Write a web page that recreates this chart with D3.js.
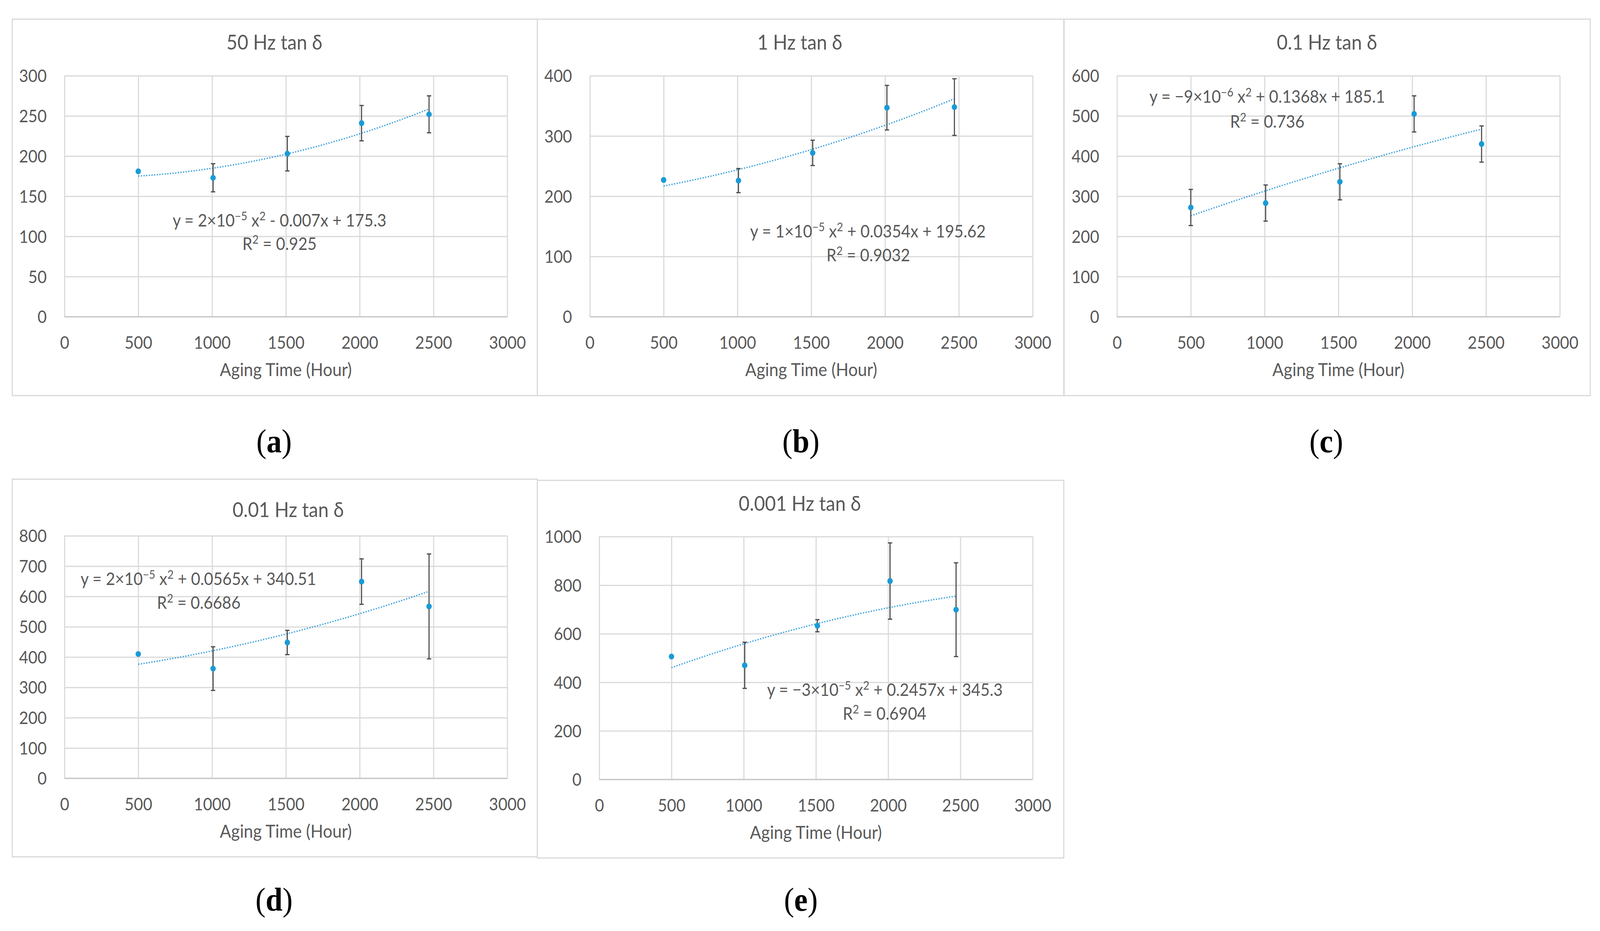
<!DOCTYPE html>
<html>
<head>
<meta charset="utf-8">
<script src="https://cdn.jsdelivr.net/npm/d3@7"></script>
<style>
  html, body { margin: 0; padding: 0; background: #ffffff; overflow: hidden; width: 100%; height: 100%; }
  svg { display: block; width: 100vw; height: 100vh; }
</style>
</head>
<body>
<svg id="chart" viewBox="0 0 4419 2384" preserveAspectRatio="none"></svg>
<script>
// ---------------- DATA ----------------
const agingHours = [500, 1007, 1510, 2013, 2470];
const xTicks = [0, 500, 1000, 1500, 2000, 2500, 3000];

const titles = ["50 Hz tan δ", "1 Hz tan δ", "0.1 Hz tan δ", "0.01 Hz tan δ", "0.001 Hz tan δ"];
const panelLetters = ["a", "b", "c", "d", "e"];

const yTicks50Hz = [0, 50, 100, 150, 200, 250, 300];
const yTicks1Hz = [0, 100, 200, 300, 400];
const yTicks01Hz = [0, 100, 200, 300, 400, 500, 600];
const yTicks001Hz = [0, 100, 200, 300, 400, 500, 600, 700, 800];
const yTicks0001Hz = [0, 200, 400, 600, 800, 1000];

const tan50Hz = [181, 173, 203, 241, 252];
const err50Hz = [0, 17.5, 21.5, 22, 23];
const tan1Hz = [227, 226, 272, 347, 348];
const err1Hz = [0, 20, 21, 37, 47];
const tan01Hz = [272, 283, 336, 505, 430];
const err01Hz = [45, 45, 45, 45, 45];
const tan001Hz = [410, 362, 448, 649, 567];
const err001Hz = [0, 72, 40, 75, 173];
const tan0001Hz = [506, 470, 633, 817, 699];
const err0001Hz = [0, 95, 25, 157, 193];

const equations = [
  "y = 2×10^{−5} x^{2} - 0.007x + 175.3",
  "y = 1×10^{−5} x^{2} + 0.0354x + 195.62",
  "y = −9×10^{−6} x^{2} + 0.1368x + 185.1",
  "y = 2×10^{−5} x^{2} + 0.0565x + 340.51",
  "y = −3×10^{−5} x^{2} + 0.2457x + 345.3"
];
const rSquared = ["R^{2} = 0.925", "R^{2} = 0.9032", "R^{2} = 0.736", "R^{2} = 0.6686", "R^{2} = 0.6904"];

// ---------------- LAYOUT ----------------
const layout = [
  { box: [34, 49, 1484, 1013], plot: [178, 194, 1401, 811], title: [758, 127], eq: [772, 580], r2: [772, 640], lab: [757, 1158] },
  { box: [1484, 49, 2938, 1013], plot: [1629, 194, 2852, 811], title: [2209, 127], eq: [2397, 608], r2: [2398, 669], lab: [2212, 1158] },
  { box: [2939, 49, 4392, 1013], plot: [3085, 194, 4308, 811], title: [3665, 127], eq: [3500, 263], r2: [3500, 327], lab: [3663, 1158] },
  { box: [34, 1227, 1484, 2194], plot: [178, 1372, 1401, 1993], title: [796, 1324], eq: [548, 1498], r2: [549, 1559], lab: [757, 2332] },
  { box: [1484, 1230, 2938, 2197], plot: [1655, 1374, 2852, 1996], title: [2209, 1308], eq: [2444, 1782], r2: [2443, 1843], lab: [2212, 2332] }
];

const panels = [
  { v: tan50Hz, e: err50Hz, yt: yTicks50Hz },
  { v: tan1Hz, e: err1Hz, yt: yTicks1Hz },
  { v: tan01Hz, e: err01Hz, yt: yTicks01Hz },
  { v: tan001Hz, e: err001Hz, yt: yTicks001Hz },
  { v: tan0001Hz, e: err0001Hz, yt: yTicks0001Hz }
];

const FONT = "Lato, 'Open Sans', 'DejaVu Sans', sans-serif";
const TEXT = "#595959";
const GRID = "#d9d9d9";
const BLUE = "#1b9ad6";
const TREND = "#3aa0dd";

// quadratic least squares (as the spreadsheet trendline does)
function polyfit2(xs, ys) {
  const n = xs.length;
  let S = [0, 0, 0, 0, 0], T = [0, 0, 0];
  for (let i = 0; i < n; i++) {
    const x = xs[i] / 1000, y = ys[i];
    for (let k = 0; k < 5; k++) S[k] += Math.pow(x, k);
    for (let k = 0; k < 3; k++) T[k] += Math.pow(x, k) * y;
  }
  const A = [[S[0], S[1], S[2], T[0]], [S[1], S[2], S[3], T[1]], [S[2], S[3], S[4], T[2]]];
  for (let c = 0; c < 3; c++) {
    let p = c;
    for (let r = c + 1; r < 3; r++) if (Math.abs(A[r][c]) > Math.abs(A[p][c])) p = r;
    [A[c], A[p]] = [A[p], A[c]];
    for (let r = 0; r < 3; r++) {
      if (r === c) continue;
      const f = A[r][c] / A[c][c];
      for (let k = c; k < 4; k++) A[r][k] -= f * A[c][k];
    }
  }
  const a0 = A[0][3] / A[0][0], a1 = A[1][3] / A[1][1], a2 = A[2][3] / A[2][2];
  return x => { const t = x / 1000; return a0 + a1 * t + a2 * t * t; };
}

function richText(sel, str, size) {
  const parts = str.split(/(\^\{[^}]*\})/);
  let sup = false;
  parts.forEach(p => {
    if (!p) return;
    const m = p.match(/^\^\{([^}]*)\}$/);
    if (m) {
      sel.append("tspan").attr("font-size", size * 0.68).attr("dy", -size * 0.36).text(m[1]);
      sup = true;
    } else {
      sel.append("tspan").attr("font-size", size).attr("dy", sup ? size * 0.36 : 0).text(p);
      sup = false;
    }
  });
}

const svg = d3.select("#chart");
svg.append("rect").attr("width", 4419).attr("height", 2384).attr("fill", "#fff");

panels.forEach((P, i) => {
  const L = layout[i];
  const g = svg.append("g");
  const [bx0, by0, bx1, by1] = L.box;
  g.append("rect").attr("x", bx0).attr("y", by0).attr("width", bx1 - bx0).attr("height", by1 - by0)
    .attr("fill", "#fff").attr("stroke", GRID).attr("stroke-width", 3);

  const [px0, py0, px1, py1] = L.plot;
  const x = d3.scaleLinear().domain([0, 3000]).range([px0, px1]);
  const y = d3.scaleLinear().domain([0, d3.max(P.yt)]).range([py1, py0]);

  // y axis with gridlines
  const ya = g.append("g").attr("transform", `translate(${px0},0)`)
    .call(d3.axisLeft(y).tickValues(P.yt).tickSize(-(px1 - px0)).tickPadding(49).tickFormat(d3.format("d")));
  ya.select(".domain").remove();
  ya.selectAll("line").attr("stroke", GRID).attr("stroke-width", 3);
  ya.selectAll("text").attr("fill", TEXT).attr("font-family", FONT).attr("font-size", 44).attr("dy", "0.36em");

  // x axis with gridlines
  const xa = g.append("g").attr("transform", `translate(0,${py1})`)
    .call(d3.axisBottom(x).tickValues(xTicks).tickSize(-(py1 - py0)).tickPadding(51).tickFormat(d3.format("d")));
  xa.select(".domain").remove();
  xa.selectAll("line").attr("stroke", GRID).attr("stroke-width", 3);
  xa.selectAll("text").attr("fill", TEXT).attr("font-family", FONT).attr("font-size", 44);

  // baseline
  g.append("line").attr("x1", px0).attr("x2", px1).attr("y1", y(0)).attr("y2", y(0))
    .attr("stroke", "#c6c6c6").attr("stroke-width", 3);

  // title
  g.append("text").attr("x", L.title[0]).attr("y", L.title[1]).attr("text-anchor", "middle")
    .attr("fill", TEXT).attr("font-family", FONT).attr("font-size", 52).text(titles[i]);

  // axis title
  g.append("text").attr("x", (px0 + px1) / 2).attr("y", py1 + 152).attr("text-anchor", "middle")
    .attr("fill", TEXT).attr("font-family", FONT).attr("font-size", 46).text("Aging Time (Hour)");

  // trendline
  const f = polyfit2(agingHours, P.v);
  const xs = d3.range(0, 101).map(k => d3.min(agingHours) + (d3.max(agingHours) - d3.min(agingHours)) * k / 100);
  g.append("path").datum(xs)
    .attr("d", d3.line().x(d => x(d)).y(d => y(f(d))))
    .attr("fill", "none").attr("stroke", TREND).attr("stroke-width", 3.5).attr("stroke-dasharray", "3.3,4");

  // error bars
  const pts = agingHours.map((h, k) => ({ h, v: P.v[k], e: P.e[k] }));
  const eb = g.append("g").selectAll("g").data(pts.filter(d => d.e > 0)).join("g");
  eb.append("line").attr("x1", d => x(d.h)).attr("x2", d => x(d.h))
    .attr("y1", d => y(d.v - d.e)).attr("y2", d => y(d.v + d.e))
    .attr("stroke", "#4a4a4a").attr("stroke-width", 3);
  eb.append("line").attr("x1", d => x(d.h) - 6).attr("x2", d => x(d.h) + 6)
    .attr("y1", d => y(d.v + d.e)).attr("y2", d => y(d.v + d.e))
    .attr("stroke", "#4a4a4a").attr("stroke-width", 3);
  eb.append("line").attr("x1", d => x(d.h) - 6).attr("x2", d => x(d.h) + 6)
    .attr("y1", d => y(d.v - d.e)).attr("y2", d => y(d.v - d.e))
    .attr("stroke", "#4a4a4a").attr("stroke-width", 3);

  // points
  g.append("g").selectAll("circle").data(pts).join("circle")
    .attr("cx", d => x(d.h)).attr("cy", d => y(d.v)).attr("r", 7.5).attr("fill", BLUE);

  // equation labels
  const eqT = g.append("text").attr("x", L.eq[0]).attr("y", L.eq[1]).attr("text-anchor", "middle")
    .attr("fill", TEXT).attr("font-family", FONT);
  richText(eqT, equations[i], 44);
  const r2T = g.append("text").attr("x", L.r2[0]).attr("y", L.r2[1]).attr("text-anchor", "middle")
    .attr("fill", TEXT).attr("font-family", FONT);
  richText(r2T, rSquared[i], 44);

  // panel letter
  const lt = svg.append("text").attr("x", L.lab[0]).attr("y", L.lab[1]).attr("text-anchor", "middle")
    .attr("fill", "#000").attr("font-family", "'Liberation Serif', 'DejaVu Serif', serif").attr("font-size", 84);
  lt.append("tspan").text("(");
  lt.append("tspan").attr("font-weight", "bold").text(panelLetters[i]);
  lt.append("tspan").text(")");
});
</script>
</body>
</html>
